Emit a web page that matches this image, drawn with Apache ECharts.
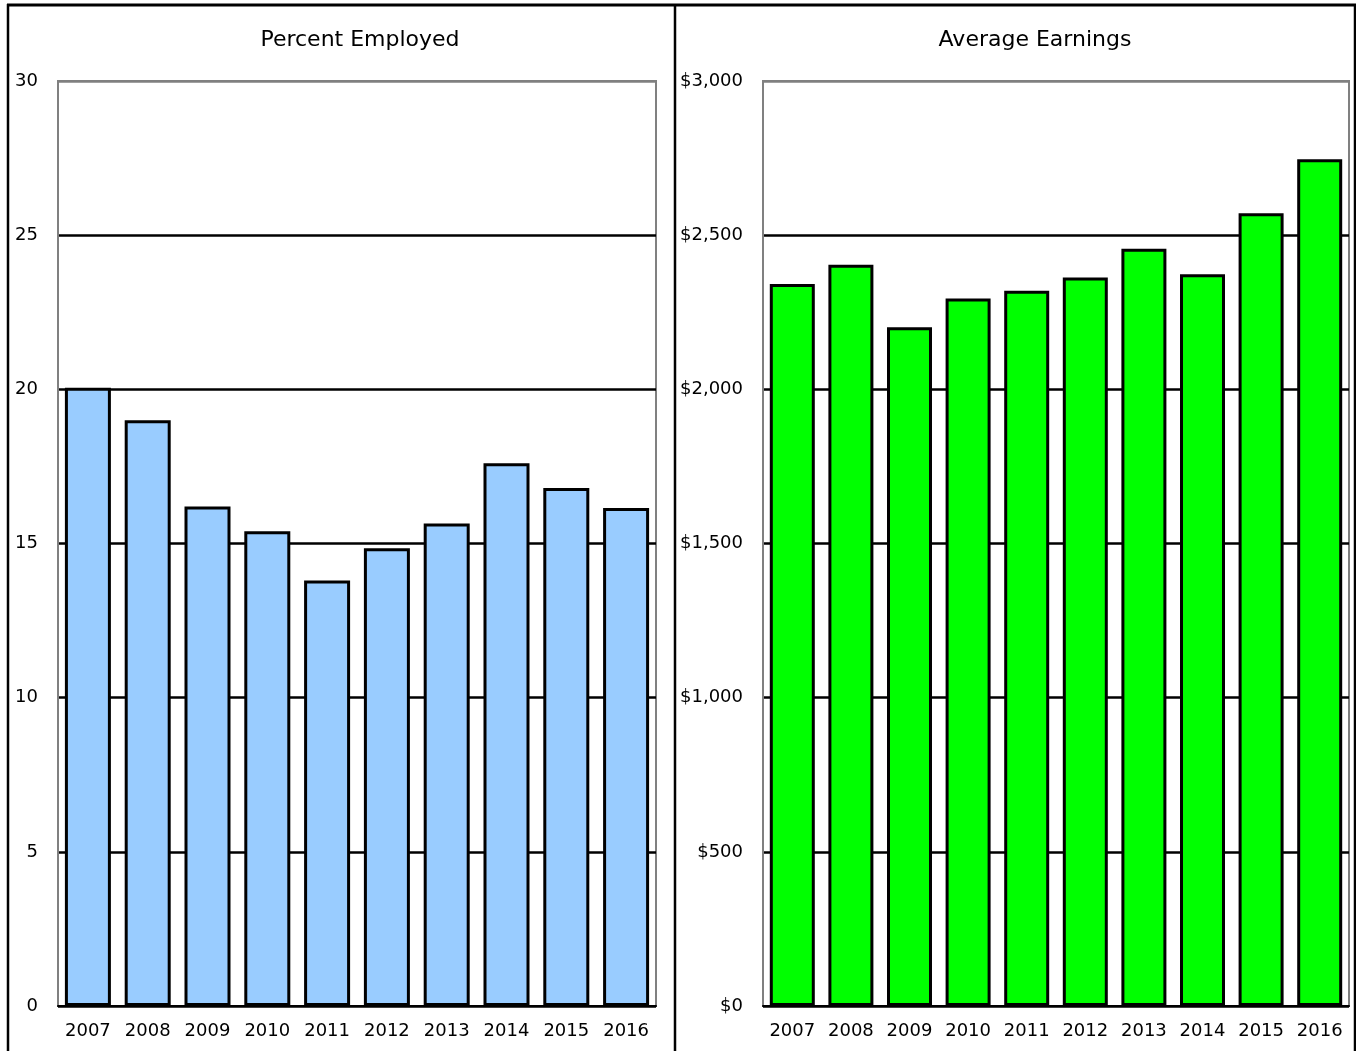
<!DOCTYPE html>
<html>
<head>
<meta charset="utf-8">
<script src="https://cdn.jsdelivr.net/npm/echarts@6/dist/echarts.min.js"></script>
<style>html,body{margin:0;padding:0;background:#fff;}#c{width:1356px;height:1051px;}</style>
</head>
<body>
<div id="c"></div>
<script>
const years = ['2007','2008','2009','2010','2011','2012','2013','2014','2015','2016'];
const percentEmployed = [20.05, 19.0, 16.2, 15.4, 13.8, 14.85, 15.65, 17.6, 16.8, 16.15];
const averageEarnings = [2342, 2404, 2201, 2295, 2320, 2363, 2456, 2373, 2571, 2746];
const panelTitles = ['Percent Employed', 'Average Earnings'];

const FONT = 'DejaVu Sans';
const chart = echarts.init(document.getElementById('c'), null, {renderer: 'canvas'});

const gridLineColors = ['#000','#000','#000','#000','#000','#000','#808080'];

function yAxisCfg(gridIndex, max, interval, fmt) {
  return {
    type: 'value', gridIndex, min: 0, max, interval,
    axisLine: {show: true, lineStyle: {color: '#808080', width: 2}},
    axisTick: {show: false},
    axisLabel: {fontFamily: FONT, fontSize: 18, color: '#000', margin: 20, formatter: fmt},
    splitLine: {show: true, lineStyle: {color: gridLineColors, width: 2.5}}
  };
}
function xAxisCfg(gridIndex) {
  return {
    type: 'category', gridIndex, data: years,
    axisLine: {show: true, onZero: false, lineStyle: {color: '#000', width: 2}},
    axisTick: {show: false},
    axisLabel: {fontFamily: FONT, fontSize: 18, color: '#000', margin: 16, interval: 0}
  };
}

chart.setOption({
  animation: false,
  backgroundColor: '#fff',
  title: [
    {text: panelTitles[0], left: 355, top: 24, textAlign: 'center',
     textStyle: {fontFamily: FONT, fontSize: 22, fontWeight: 'normal', color: '#000'}},
    {text: panelTitles[1], left: 1030, top: 24, textAlign: 'center',
     textStyle: {fontFamily: FONT, fontSize: 22, fontWeight: 'normal', color: '#000'}}
  ],
  grid: [
    {left: 58, top: 81, width: 598, bottom: 45, show: true, borderColor: '#808080', borderWidth: 2, backgroundColor: '#fff'},
    {left: 763, top: 81, width: 586, bottom: 45, show: true, borderColor: '#808080', borderWidth: 2, backgroundColor: '#fff'}
  ],
  xAxis: [xAxisCfg(0), xAxisCfg(1)],
  yAxis: [
    yAxisCfg(0, 30, 5, v => String(v)),
    yAxisCfg(1, 3000, 500, v => '$' + v.toLocaleString('en-US'))
  ],
  series: [
    {type: 'bar', xAxisIndex: 0, yAxisIndex: 0, data: percentEmployed, barWidth: 46,
     itemStyle: {color: '#99CCFF', borderColor: '#000', borderWidth: 3}},
    {type: 'bar', xAxisIndex: 1, yAxisIndex: 1, data: averageEarnings, barWidth: 45,
     itemStyle: {color: '#00FF00', borderColor: '#000', borderWidth: 3}}
  ],
  graphic: [
    {type: 'line', shape: {x1: 7, y1: 5, x2: 1356, y2: 5}, style: {stroke: '#000', lineWidth: 3}, z: 100},
    {type: 'line', shape: {x1: 8, y1: 4, x2: 8, y2: 1051}, style: {stroke: '#000', lineWidth: 2.5}, z: 100},
    {type: 'line', shape: {x1: 675, y1: 4, x2: 675, y2: 1051}, style: {stroke: '#000', lineWidth: 2.5}, z: 100},
    {type: 'line', shape: {x1: 1355, y1: 4, x2: 1355, y2: 1051}, style: {stroke: '#000', lineWidth: 2.5}, z: 100}
  ]
});
</script>
</body>
</html>
